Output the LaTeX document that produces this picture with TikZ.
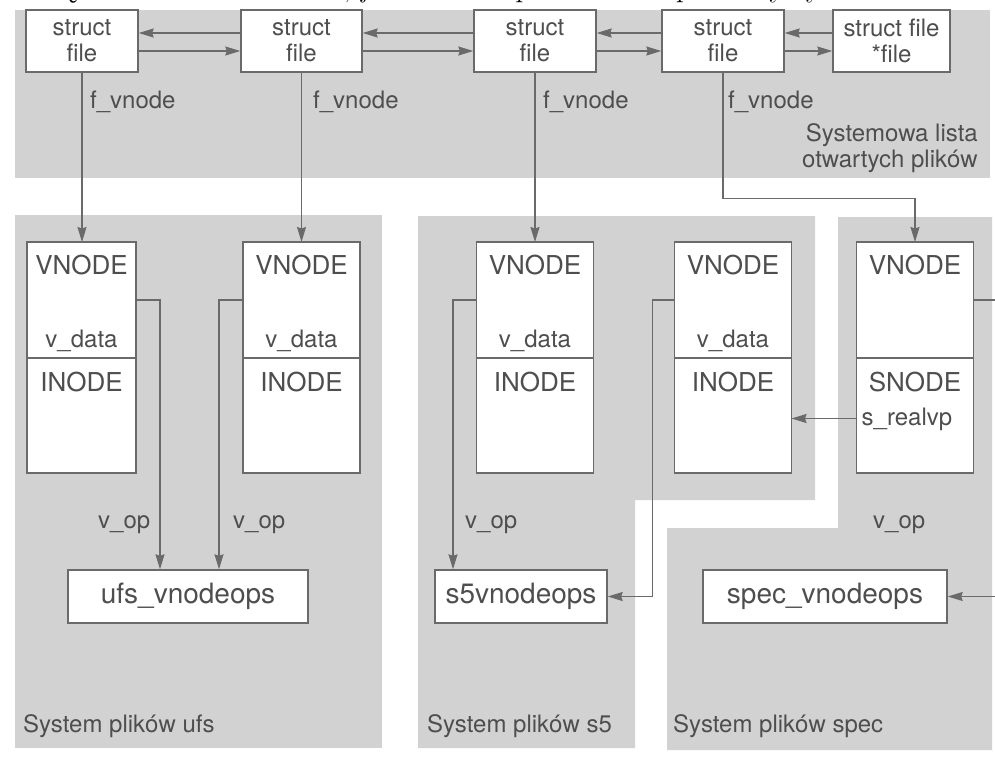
\documentclass[tikz,border=0pt]{standalone}
\usepackage{fontspec}
\setsansfont{TeX Gyre Heros}
\usepackage{xcolor}
\definecolor{Ink}{HTML}{4E4E4E}
\definecolor{Wire}{HTML}{6A6A6A}
\definecolor{Panel}{HTML}{D2D2D2}
\colorlet{ink}{Ink}
\colorlet{wire}{Wire}
\colorlet{panel}{Panel}
\usepackage{tikz}
\usetikzlibrary{arrows.meta,positioning,calc}

\begin{document}
\begin{tikzpicture}[x=1pt,y=-1pt,every node/.style={font=\sffamily\fontsize{24}{26}\selectfont,text=ink,align=center,inner sep=0pt},
  filebox/.style={draw=wire,fill=white,line width=1.4pt,minimum height=62pt},
  vbox/.style={draw=wire,fill=white,line width=1.4pt,outer sep=0pt,minimum width=117pt,minimum height=116pt},
  opsbox/.style={draw=wire,fill=white,line width=1.4pt,minimum height=53pt,font=\sffamily\fontsize{28}{30}\selectfont},
  big/.style={font=\sffamily\fontsize{26}{28}\selectfont},
  wire/.style={draw=wire,line width=1.4pt},
  arr/.style={wire,-{Stealth[length=15pt,width=9pt,inset=1.5pt]}}]
\useasboundingbox (0,0) rectangle (995,761);
\fill[white] (0,0) rectangle (995,761);
\fill[panel] (15,10) rectangle (990,178);
\fill[panel] (15,215) rectangle (382,748);
\fill[panel] (418,216) -- (815,216) -- (815,500) -- (635,500) -- (635,748) -- (418,748) -- cycle;
\fill[panel] (838,217) -- (992,217) -- (992,750) -- (667,750) -- (667,528) -- (838,528) -- cycle;
\coordinate (offr) at (995,0);
\node[anchor=base west,align=left,font=\rmfamily\fontsize{32}{38}\selectfont,text=black] (caption) at (0,-4) {Powiązanie struktur \textit{vnode}, \textit{file} i \textit{vnode} przedstawia poniższy rysunek.};
\node[filebox,minimum width=112pt] (f1) at (82,41) {struct\\file};
\node[filebox,minimum width=121pt] (f2) at (301.5,41) {struct\\file};
\node[filebox,minimum width=122pt] (f3) at (535,41) {struct\\file};
\node[filebox,minimum width=122pt] (f4) at (723,41) {struct\\file};
\node[filebox,minimum width=117pt] (f5) at (891.5,41) {struct file\\*file};
\draw[arr] ([yshift=8pt]f2.west) -- ([yshift=8pt]f1.east);\draw[arr] ([yshift=-10pt]f1.east) -- ([yshift=-10pt]f2.west);
\draw[arr] ([yshift=8pt]f3.west) -- ([yshift=8pt]f2.east);\draw[arr] ([yshift=-10pt]f2.east) -- ([yshift=-10pt]f3.west);
\draw[arr] ([yshift=8pt]f4.west) -- ([yshift=8pt]f3.east);\draw[arr] ([yshift=-10pt]f3.east) -- ([yshift=-10pt]f4.west);
\draw[arr] ([yshift=8pt]f5.west) -- ([yshift=8pt]f4.east);\draw[arr] ([yshift=-10pt]f4.east) -- ([yshift=-10pt]f5.west);
\node[anchor=base west] (fv1) at (90,108) {f\_vnode};
\node[anchor=base west] (fv2) at (313,108) {f\_vnode};
\node[anchor=base west] (fv3) at (543,108) {f\_vnode};
\node[anchor=base west] (fv4) at (728,108) {f\_vnode};
\node[anchor=base east,align=right] (syslist) at (978,167) {Systemowa lista\\otwartych plików};
\node[vbox,minimum width=109pt] (v1) at (81.5,300) {};
\node[vbox] (v2) at (301.5,300) {};
\node[vbox] (v3) at (535,300) {};
\node[vbox] (v4) at (733,300) {};
\node[vbox] (v5) at (915,300) {};
\node[vbox,minimum width=109pt,minimum height=115pt,below=0pt of v1] (i1) {};
\node[vbox,minimum height=115pt,below=0pt of v2] (i2) {};
\node[vbox,minimum height=115pt,below=0pt of v3] (i3) {};
\node[vbox,minimum height=115pt,below=0pt of v4] (i4) {};
\node[vbox,minimum height=115pt,below=0pt of v5] (i5) {};
\node[big,below=13pt of v1.north] (v1n) {VNODE};\node[above=6pt of v1.south] (v1d) {v\_data};\node[big,below=14pt of i1.north] (i1n) {INODE};
\node[big,below=13pt of v2.north] (v2n) {VNODE};\node[above=6pt of v2.south] (v2d) {v\_data};\node[big,below=14pt of i2.north] (i2n) {INODE};
\node[big,below=13pt of v3.north] (v3n) {VNODE};\node[above=6pt of v3.south] (v3d) {v\_data};\node[big,below=14pt of i3.north] (i3n) {INODE};
\node[big,below=13pt of v4.north] (v4n) {VNODE};\node[above=6pt of v4.south] (v4d) {v\_data};\node[big,below=14pt of i4.north] (i4n) {INODE};
\node[big,below=13pt of v5.north] (v5n) {VNODE};\node[big,below=14pt of i5.north] (i5n) {SNODE};
\node[right=5pt of i5.west,yshift=-4pt] (srv) {s\_realvp};
\draw[arr] (f1.south) -- (f1.south |- v1.north);\draw[arr] (f2.south) -- (f2.south |- v2.north);\draw[arr] (f3.south) -- (f3.south |- v3.north);
\draw[arr] (f4.south) -- ++(0,126) -| (v5.north);
\node[opsbox,minimum width=240pt] (ufs) at (188,596.5) {ufs\_vnodeops};
\node[opsbox,minimum width=172pt] (s5) at (521,596.5) {s5vnodeops};
\node[opsbox,minimum width=244pt] (spec) at (825,596.5) {spec\_vnodeops};
\node[anchor=base west] (op1) at (98,528) {v\_op};
\node[anchor=base west] (op2) at (233,528) {v\_op};
\node[anchor=base west] (op3) at (465,528) {v\_op};
\node[anchor=base west] (op4) at (873,528) {v\_op};
\draw[arr] (v1.east) -| ([xshift=-28pt]ufs.north);\draw[arr] (v2.west) -| ([xshift=31pt]ufs.north);
\draw[arr] (v3.west) -| ([xshift=-68pt]s5.north);\draw[arr] (v4.west) -- ++(-22,0) |- (s5.east);
\draw[arr] ([yshift=-3pt]i5.west) -- ([yshift=-3pt]i4.east);
\draw[wire] (v5.east) -- (v5.east -| offr);\draw[arr] (spec.east -| offr) -- (spec.east);
\node[anchor=base west] (fsufs) at (23,732) {System plików ufs};
\node[anchor=base west] (fss5) at (427,732) {System plików s5};
\node[anchor=base west] (fsspec) at (673,732) {System plików spec};
\end{tikzpicture}
\end{document}
